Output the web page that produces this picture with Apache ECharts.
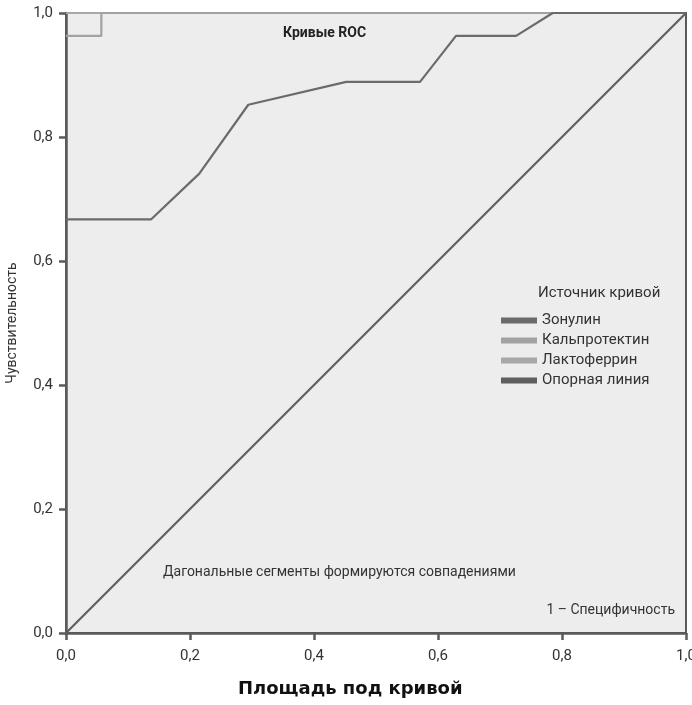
<!DOCTYPE html>
<html>
<head>
<meta charset="utf-8">
<script src="https://cdn.jsdelivr.net/npm/echarts@6/dist/echarts.min.js"></script>
<style>
  html, body { margin: 0; padding: 0; background: #fff; }
  #chart { width: 692px; height: 705px; }
</style>
</head>
<body>
<div id="chart"></div>
<script>
// данные кривых ROC (1 - специфичность, чувствительность)
const zonulinX = [0, 0.137, 0.215, 0.294, 0.452, 0.571, 0.629, 0.726, 0.785, 1.0];
const zonulinY = [0.667, 0.667, 0.741, 0.852, 0.889, 0.889, 0.963, 0.963, 1.0, 1.0];
const kalproX = [0, 0.057, 0.057, 1.0];
const kalproY = [0.963, 0.963, 1.0, 1.0];
const laktoX = [0, 1.0];
const laktoY = [1.0, 1.0];
const refX = [0, 1.0];
const refY = [0, 1.0];
const tickLabels = ['0,0', '0,2', '0,4', '0,6', '0,8', '1,0'];

const FONT = '"Roboto", sans-serif';

function pairs(xs, ys) {
    return xs.map((x, i) => [x, ys[i]]);
}

const myChart = echarts.init(document.getElementById('chart'));
myChart.setOption({
    animation: false,
    backgroundColor: '#fff',
    grid: {
        left: 66, right: 6, top: 13, bottom: 72,
        outerBoundsMode: 'none',
        containLabel: false,
        show: true,
        backgroundColor: '#ededed',
        borderColor: '#5a5a5a',
        borderWidth: 2
    },
    xAxis: {
        type: 'value', min: 0, max: 1, interval: 0.2,
        axisLine: { lineStyle: { color: '#5a5a5a', width: 2.5 } },
        axisTick: { show: true, length: 7, lineStyle: { color: '#5a5a5a', width: 2.5 } },
        splitLine: { show: false },
        axisLabel: {
            color: '#333', fontFamily: FONT, fontSize: 15, margin: 16,
            formatter: v => tickLabels[Math.round(v * 5)]
        }
    },
    yAxis: {
        type: 'value', min: 0, max: 1, interval: 0.2,
        name: 'Чувствительность',
        nameLocation: 'middle', nameGap: 47,
        nameTextStyle: { color: '#333', fontFamily: FONT, fontSize: 14 },
        axisLine: { show: true, lineStyle: { color: '#5a5a5a', width: 2.5 } },
        axisTick: { show: true, length: 7, lineStyle: { color: '#5a5a5a', width: 2.5 } },
        splitLine: { show: false },
        axisLabel: {
            color: '#333', fontFamily: FONT, fontSize: 15, margin: 13,
            formatter: v => tickLabels[Math.round(v * 5)]
        }
    },
    legend: {
        orient: 'vertical', left: 496, top: 308,
        icon: 'rect', itemWidth: 36, itemHeight: 6, itemGap: 5,
        textStyle: { color: '#333', fontFamily: FONT, fontSize: 15 },
        data: ['Зонулин', 'Кальпротектин', 'Лактоферрин', 'Опорная линия']
    },
    graphic: [
        { type: 'text', left: 538, top: 286,
          style: { text: 'Источник кривой', fill: '#333', font: '15px ' + FONT } },
        { type: 'text', left: 283, top: 26,
          style: { text: 'Кривые ROC', fill: '#222', font: 'bold 14px ' + FONT } },
        { type: 'text', left: 163, top: 565,
          style: { text: 'Дагональные сегменты формируются совпадениями', fill: '#333', font: '14px ' + FONT } },
        { type: 'text', right: 17, top: 603,
          style: { text: '1 – Специфичность', fill: '#333', font: '14px ' + FONT } },
        { type: 'text', left: 238, top: 680,
          style: { text: 'Площадь под кривой', fill: '#111', font: 'bold 18px "DejaVu Sans", sans-serif' } }
    ],
    series: [
        { name: 'Опорная линия', type: 'line', data: pairs(refX, refY), showSymbol: false,
          color: '#5e5e5e', lineStyle: { width: 2.2, color: '#5e5e5e' } },
        { name: 'Лактоферрин', type: 'line', data: pairs(laktoX, laktoY), showSymbol: false,
          color: '#a8a8a8', lineStyle: { width: 2.2, color: '#a8a8a8' } },
        { name: 'Кальпротектин', type: 'line', data: pairs(kalproX, kalproY), showSymbol: false,
          color: '#a2a2a2', lineStyle: { width: 2.2, color: '#a2a2a2' } },
        { name: 'Зонулин', type: 'line', data: pairs(zonulinX, zonulinY), showSymbol: false,
          color: '#6b6b6b', lineStyle: { width: 2.2, color: '#6b6b6b' } }
    ]
});
</script>
</body>
</html>
